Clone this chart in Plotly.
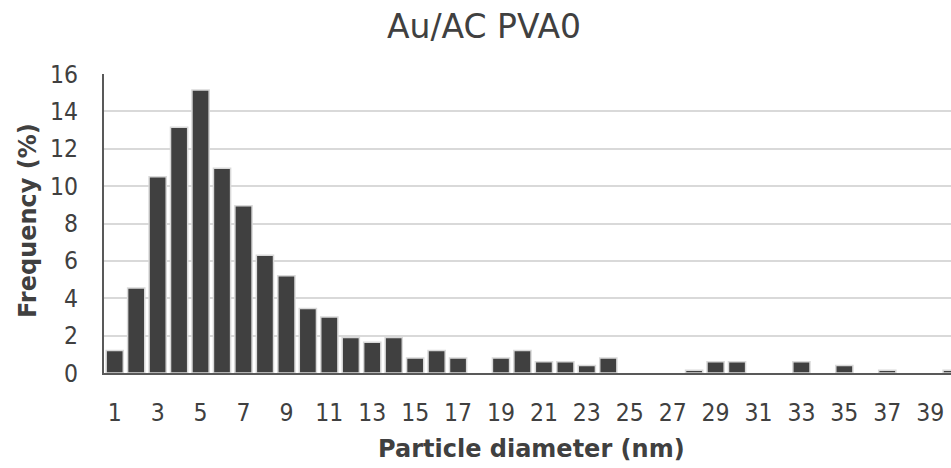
import plotly.graph_objects as go

# Particle size distribution (histogram bins, nm) and their frequencies (%)
diameters = list(range(1, 41))
frequency = [1.2, 4.55, 10.5, 13.15, 15.15, 10.95, 8.95, 6.3, 5.2, 3.45,
             3.0, 1.9, 1.65, 1.9, 0.8, 1.2, 0.8, 0.0, 0.8, 1.2,
             0.6, 0.6, 0.4, 0.8, 0.0, 0.0, 0.0, 0.15, 0.6, 0.6,
             0.0, 0.0, 0.6, 0.0, 0.4, 0.0, 0.15, 0.0, 0.0, 0.15]
x_ticks = list(range(1, 40, 2))
y_ticks = list(range(0, 17, 2))

TEXT = "#404040"
TICK_FONT = "DejaVu Sans Condensed"
TITLE_FONT = "DejaVu Sans"

# empty bins get no outline so the axis line stays clean
outline_widths = [1.5 if v > 0 else 0 for v in frequency]

fig = go.Figure(go.Bar(
    x=diameters,
    y=frequency,
    width=0.8,
    marker=dict(color="#404040", line=dict(color="#d9d9d9", width=outline_widths)),
))

fig.update_layout(
    width=951, height=468,
    margin=dict(l=104, r=0, t=74, b=95),
    paper_bgcolor="white", plot_bgcolor="white",
    showlegend=False,
    font=dict(family=TICK_FONT, color=TEXT),
    title=dict(text="Au/AC PVA0", x=484 / 951, xref="container", xanchor="center",
               y=1 - 26 / 468, yref="container", yanchor="middle",
               font=dict(family=TITLE_FONT, size=33, color=TEXT)),
)

fig.update_xaxes(
    range=[0.5, 39.97],
    tickmode="array", tickvals=x_ticks, ticktext=[str(v) for v in x_ticks],
    tickfont=dict(size=24.5, color=TEXT),
    ticks="", ticklabelstandoff=17,
    showgrid=False, zeroline=False,
    showline=True, linecolor="#595959", linewidth=2,
)
fig.update_yaxes(
    range=[0, 16],
    tickmode="array", tickvals=y_ticks,
    tickfont=dict(size=24.5, color=TEXT),
    ticks="", ticklabelstandoff=19,
    showgrid=True, gridcolor="#d9d9d9", gridwidth=1.5,
    zeroline=False,
    showline=True, linecolor="#595959", linewidth=2,
)

# Axis titles
fig.add_annotation(text="<b>Particle diameter (nm)</b>", x=531, y=449,
                   xref="paper", yref="paper", showarrow=False,
                   font=dict(family=TITLE_FONT, size=24, color=TEXT))
fig.add_annotation(text="<b>Frequency (%)</b>", x=28, y=221,
                   xref="paper", yref="paper", showarrow=False, textangle=-90,
                   font=dict(family=TITLE_FONT, size=24, color=TEXT))

# place annotations in pixel terms relative to the plot area
plot_left, plot_right = 104, 951
plot_top, plot_bottom = 74, 373
for ann in fig.layout.annotations:
    px, py = ann.x, ann.y
    ann.x = (px - plot_left) / (plot_right - plot_left)
    ann.y = (plot_bottom - py) / (plot_bottom - plot_top)
    ann.xanchor = "center"
    ann.yanchor = "middle"

fig.write_html("out.html")
